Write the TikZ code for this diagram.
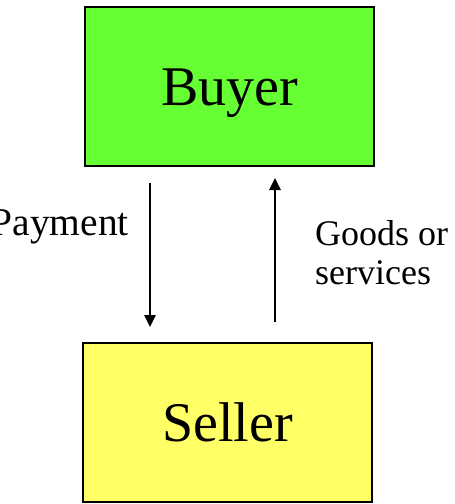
\documentclass[tikz,border=0pt]{standalone}
\usepackage{fontspec}
\setmainfont{Liberation Serif}
\usetikzlibrary{arrows.meta}
\definecolor{buyergreen}{HTML}{66FF33}
\definecolor{selleryellow}{HTML}{FFFF66}
\begin{document}
\begin{tikzpicture}[x=1pt,y=-1pt,
  partybox/.style={draw=black,line width=1.8pt,inner sep=0pt,
    minimum width=289pt,
    text height=37pt,text depth=0pt,
    font=\fontsize{56}{60}\selectfont},
  flowlabel/.style={inner sep=0pt,font=\fontsize{36}{39}\selectfont},
  flowarrow/.style={line width=2.5pt,-{Triangle[length=12pt,width=11pt]}}]
\useasboundingbox (0,0) rectangle (455,504);
\clip (0,0) rectangle (455,504);
\node[partybox,fill=buyergreen,minimum height=159pt] (buyer) at (229.5,86.5) {Buyer};
\node[partybox,fill=selleryellow,minimum height=159pt] (seller) at (227.5,422.5) {Seller};
\coordinate (payfrom) at (150,183);
\coordinate (payto) at (150,327);
\coordinate (goodsfrom) at (275,322);
\coordinate (goodsto) at (275,178);
\draw[flowarrow] (payfrom) -- (payto);
\draw[flowarrow] (goodsfrom) -- (goodsto);
\node[flowlabel,anchor=base east,font=\fontsize{39.5}{42}\selectfont] (payment) at (129,235) {Payment};
\node[flowlabel,anchor=north west,align=left] (goods) at (315,220) {Goods or\\services};
\end{tikzpicture}
\end{document}
